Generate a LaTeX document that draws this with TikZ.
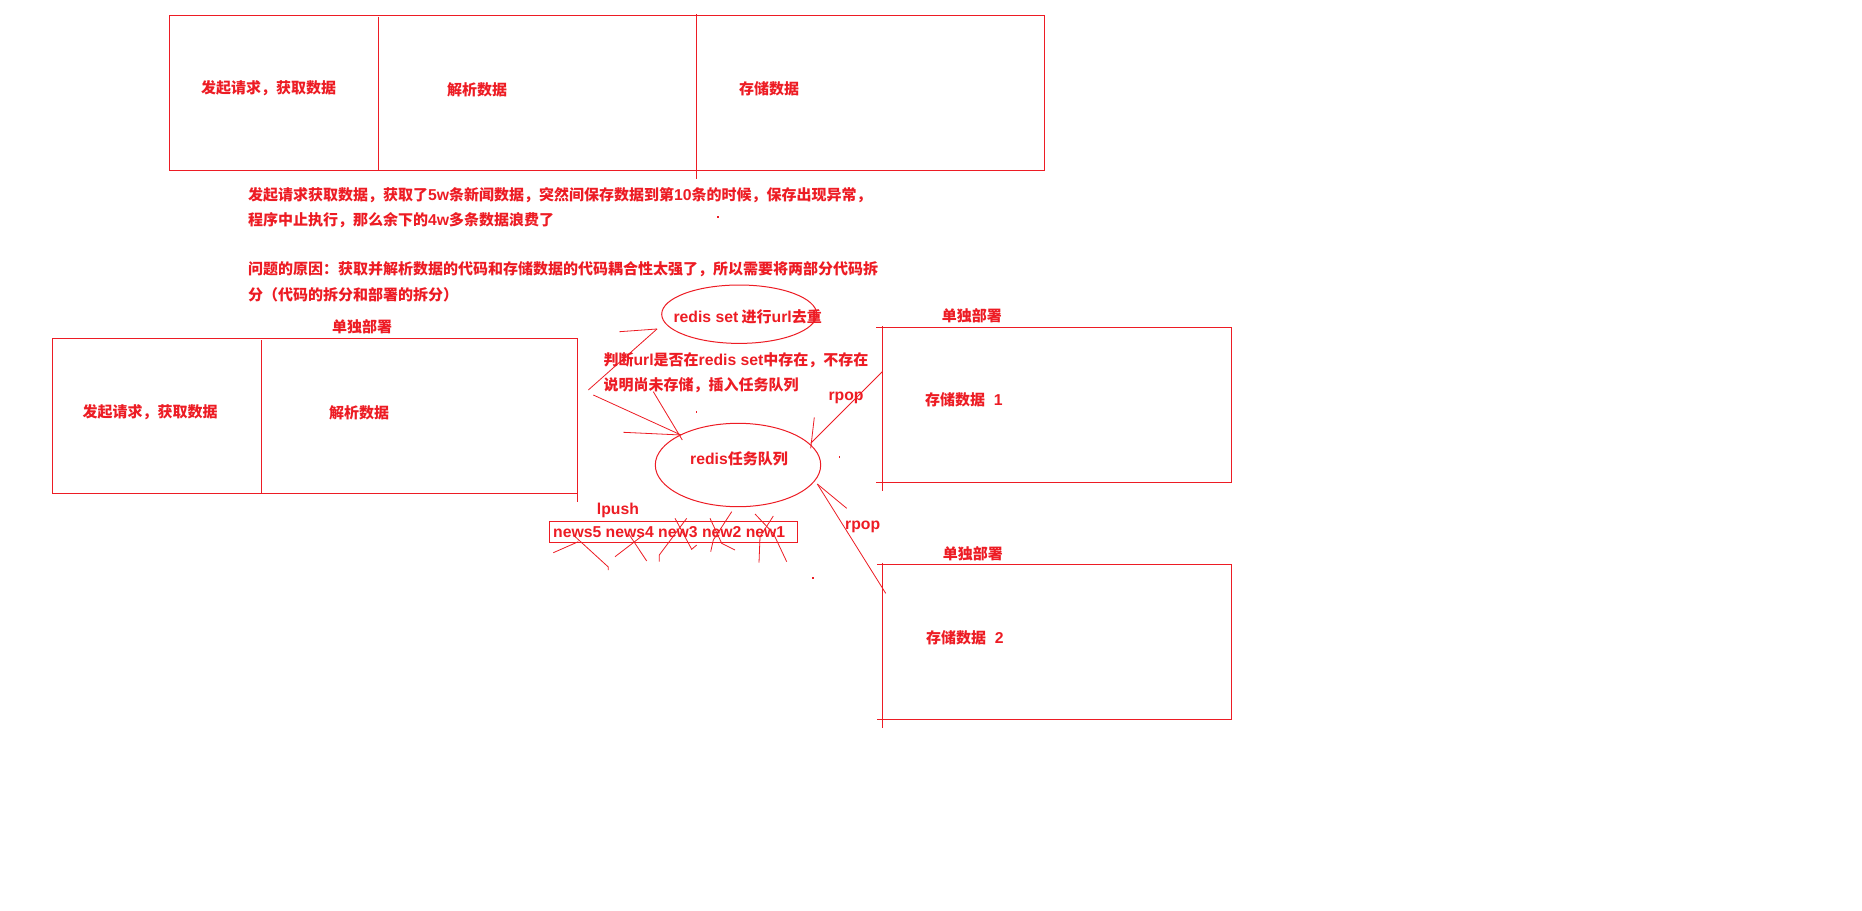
\documentclass[tikz,border=0pt]{standalone}
\usepackage{fontspec}
\setmainfont{Noto Sans CJK SC}
\newfontfamily\en{Liberation Sans}[Scale=1.05]
\usetikzlibrary{positioning}
\definecolor{pred}{RGB}{237,28,36}
\tikzstyle{box}=[draw=pred, line width=1pt]
\tikzstyle{pen}=[draw=pred, line width=0.8pt]
\tikzstyle{txt}=[text=pred, inner sep=0, anchor=west, font=\fontsize{15}{18}\selectfont\bfseries]
\tikzstyle{lat}=[txt, font=\en\fontsize{15}{18}\selectfont\bfseries]
\tikzstyle{dot}=[fill=pred]

\begin{document}
\begin{tikzpicture}[x=1pt,y=-1pt]
\useasboundingbox[fill=white] (0,0) rectangle (1862,910);
% one program for everything
\draw[box] (169.5,15.5) rectangle (1044,170);
\draw[box] (378,16.5)--(378,170);
\draw[box] (696,14)--(696,178.5);
\node[txt] (fetch) at (201,88.3) {发起请求，获取数据};
\node[txt] (parse) at (447,90) {解析数据};
\node[txt] (store) at (739,89) {存储数据};
\node[txt] (pa) at (248,195) {发起请求获取数据，获取了{\en 5w}条新闻数据，突然间保存数据到第{\en 10}条的时候，保存出现异常，};
\node[txt] (pb) at (248,220) {程序中止执行，那么余下的{\en 4w}多条数据浪费了};
\node[txt] (pc) at (248,269) {问题的原因：获取并解析数据的代码和存储数据的代码耦合性太强了，所以需要将两部分代码拆};
\node[txt] (pd) at (248,295) {分（代码的拆分和部署的拆分）};
\fill[dot] (717,216) rectangle +(1.5,1.5);

% crawler part
\draw[box] (52,338.5) rectangle (577.5,493.5);
\draw[box] (261,340)--(261,493.5);
\draw[box] (577.5,493.5)--(577.5,502);
\node[txt] (dep0) at (332,326.7) {单独部署};
\node[txt] (fetch2) at (82.5,411.7) {发起请求，获取数据};
\node[txt] (parse2) at (329,413) {解析数据};

% redis set
\coordinate (set) at (739.2,314.2);
\draw[box] (set) ellipse [x radius=77.5pt, y radius=29.2pt];
\node[txt] (settxt) at (673.3,316.7) {{\en redis set} 进行{\en url}去重};
\node[txt] (ask1) at (603.3,360) {判断{\en url}是否在{\en redis set}中存在，不存在};
\node[txt] (ask2) at (603.3,385) {说明尚未存储，插入任务队列};
\coordinate (tipA) at (657,329);
\draw[pen] (588.3,390)--(tipA);
\draw[pen] (619.3,331.7)--(tipA);

% redis queue
\coordinate (queue) at (738,465);
\draw[box] (queue) ellipse [x radius=82.7pt, y radius=41.7pt];
\node[txt] (qtxt) at (690,459) {{\en redis}任务队列};
\coordinate (tipB) at (681,435);
\draw[pen] (593.3,395)--(tipB);
\draw[pen] (623.3,432.3)--(tipB);
\draw[pen] (653.3,391.7)--(682.3,440);
\fill[dot] (695.5,411) rectangle +(1.5,1.5);
\fill[dot] (838.5,456) rectangle +(1.5,1.5);

% lpush and list
\node[lat] (lpush) at (596.7,510) {lpush};
\draw[box] (549.5,521) rectangle (797.5,542.5);
\node[lat] (list) at (553,531.7) {news5 news4 new3 new2 new1};
\draw[pen] (553.3,552.7)--(578.3,541.7);
\draw[pen] (573.3,535)--(608.3,567)--(608.3,570);
\draw[pen] (615,556.7)--(643.3,535);
\draw[pen] (628.3,533.3)--(646.7,561);
\draw[pen] (659.3,561.7)--(659.3,555)--(686.7,518.3);
\draw[pen] (675,518.3)--(691.7,549.3)--(696.7,545);
\draw[pen] (731.7,511.7)--(713.3,540)--(710.7,551.7);
\draw[pen] (710,518.3)--(721.7,543.3)--(735,550);
\draw[pen] (755,514)--(773.3,533.3)--(786.7,561.7);
\draw[pen] (773.3,516)--(760,536.7)--(759,562.7);
\fill[dot] (812,577) rectangle +(1.5,1.5);

% storage 1
\draw[box] (876,327.5)--(1231,327.5)--(1231,482.5)--(876,482.5);
\draw[box] (882,326)--(882,491);
\node[txt] (dep1) at (941.7,316) {单独部署};
\node[txt] (store1) at (925,400) {存储数据{\en ~~1}};
\node[lat] (pop1) at (828.3,398.3) {rpop};
\coordinate (tipC) at (810.7,443.3);
\draw[pen] (882.3,371.7)--(tipC);
\draw[pen] (814.3,417.3)--(810.7,448.3);

% storage 2
\draw[box] (877,564.5)--(1231.5,564.5)--(1231.5,719.5)--(877,719.5);
\draw[box] (882.5,562.5)--(882.5,727.5);
\node[txt] (dep2) at (942.7,553.3) {单独部署};
\node[txt] (store2) at (926,637.3) {存储数据{\en ~~2}};
\node[lat] (pop2) at (845,526.7) {rpop};
\coordinate (tipD) at (817.3,484);
\draw[pen] (tipD)--(885.7,593.3);
\draw[pen] (tipD)--(846.7,508.3);
\end{tikzpicture}
\end{document}
